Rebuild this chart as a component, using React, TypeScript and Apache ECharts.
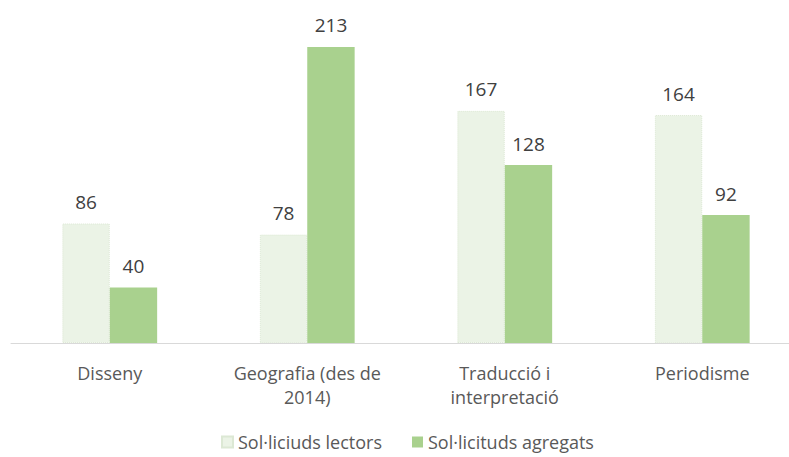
import React, { useEffect, useRef } from "react";
import * as echarts from "echarts";

const categories = ["Disseny", "Geografia (des de\n2014)", "Traducció i\ninterpretació", "Periodisme"];
const seriesNames = ["Sol·liciuds lectors", "Sol·licituds agregats"];
const lectors = [86, 78, 167, 164];
const agregats = [40, 213, 128, 92];

export default function App() {
  const ref = useRef<HTMLDivElement>(null);
  useEffect(() => {
    const chart = echarts.init(ref.current!, null, { renderer: "svg" });
    const font = "'Open Sans', 'Noto Sans', sans-serif";
    chart.setOption({
      animation: false,
      textStyle: { fontFamily: font },
      grid: { left: 11, top: 9.4, width: 790, height: 333.6, containLabel: false },
      legend: {
        top: 432,
        left: 221,
        padding: 0,
        itemWidth: 11,
        itemHeight: 11,
        itemGap: 30,
        icon: "rect",
        textStyle: { fontSize: 18, lineHeight: 20, color: "#595959", fontFamily: font },
        data: seriesNames,
      },
      xAxis: {
        type: "category",
        data: categories,
        axisLine: { lineStyle: { color: "#D9D9D9", width: 1 } },
        axisTick: { show: false },
        axisLabel: { fontSize: 18, color: "#595959", margin: 18, lineHeight: 24, fontFamily: font, interval: 0 },
      },
      yAxis: {
        type: "value",
        min: 0,
        max: 240,
        show: false,
        splitLine: { show: false },
      },
      series: [
        {
          name: seriesNames[0],
          type: "bar",
          data: lectors,
          barGap: "0%",
          barCategoryGap: "52%",
          itemStyle: { color: "#EBF3E6", borderColor: "#DCE8D4", borderWidth: 1, borderType: "dotted" },
          label: { show: true, position: "top", distance: 12, fontSize: 19, color: "#404040", fontFamily: font },
        },
        {
          name: seriesNames[1],
          type: "bar",
          data: agregats,
          itemStyle: { color: "#A9D18E" },
          label: { show: true, position: "top", distance: 12, fontSize: 19, color: "#404040", fontFamily: font },
        },
      ],
    });
    return () => chart.dispose();
  }, []);
  return (
    <div style={{ width: 789, height: 457, position: "fixed", left: 0, top: 0, overflow: "hidden", background: "#fff" }}>
      <div ref={ref} style={{ width: 801, height: 457 }} />
    </div>
  );
}
